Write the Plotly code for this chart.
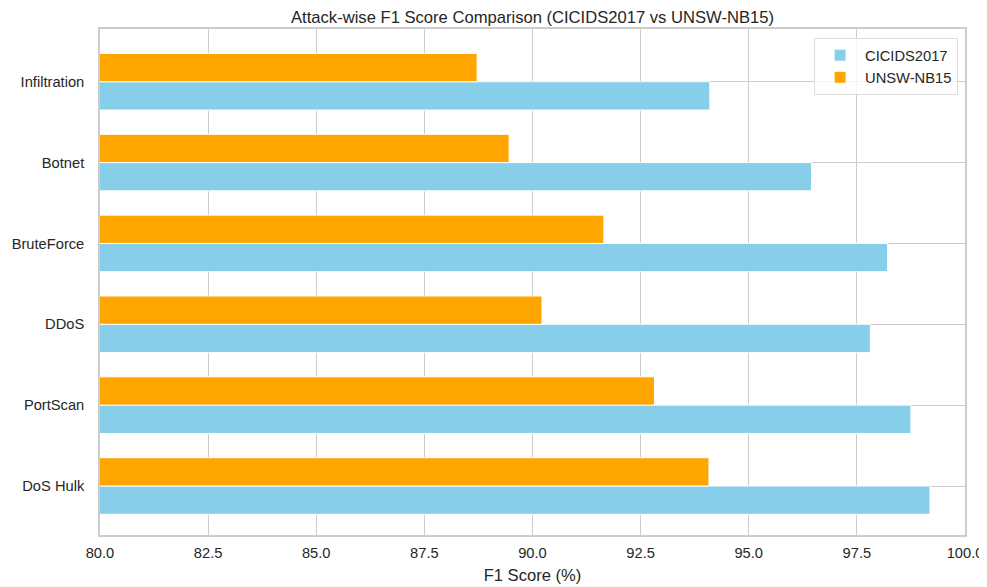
import plotly.graph_objects as go

categories = ["DoS Hulk", "PortScan", "DDoS", "BruteForce", "Botnet", "Infiltration"]
cicids2017 = [99.19, 98.75, 97.81, 98.21, 96.45, 94.10]
unsw_nb15 = [94.08, 92.82, 90.22, 91.65, 89.46, 88.72]
x_ticks = [80.0, 82.5, 85.0, 87.5, 90.0, 92.5, 95.0, 97.5, 100.0]

fig = go.Figure()
fig.add_trace(go.Bar(y=categories, x=cicids2017, orientation="h", name="CICIDS2017",
                     marker=dict(color="#87CEEB", line=dict(color="white", width=1))))
fig.add_trace(go.Bar(y=categories, x=unsw_nb15, orientation="h", name="UNSW-NB15",
                     marker=dict(color="#FFA500", line=dict(color="white", width=1))))

font = "Liberation Sans, Arial, sans-serif"
fig.update_layout(
    width=979, height=579,
    margin=dict(l=92, r=22, t=21, b=52, autoexpand=False),
    paper_bgcolor="white", plot_bgcolor="white",
    barmode="group", bargap=0.3, bargroupgap=0,
    font=dict(family=font, size=14.7, color="#262626"),
    title=dict(text="Attack-wise F1 Score Comparison (CICIDS2017 vs UNSW-NB15)",
               x=0.5, xanchor="center", xref="paper", y=0.9845, yanchor="middle",
               font=dict(size=16.6, color="#262626")),
    legend=dict(x=0.992, y=0.982, xanchor="right", yanchor="top",
                bgcolor="rgba(255,255,255,0.8)", bordercolor="#dddddd", borderwidth=1,
                font=dict(size=14.7), traceorder="normal", itemwidth=40),
    xaxis=dict(range=[80, 100], tickvals=x_ticks, ticktext=[f"{v:.1f}" for v in x_ticks],
               showgrid=True, gridcolor="#cccccc", gridwidth=1.2,
               showline=True, linecolor="#cccccc", linewidth=1.5, mirror=True,
               ticks="", zeroline=False, automargin=False, ticklabelstandoff=4,
               title=dict(text="F1 Score (%)", font=dict(size=16.6), standoff=9)),
    yaxis=dict(range=[-0.606, 5.652], showgrid=True, gridcolor="#cccccc", gridwidth=1.2,
               showline=True, linecolor="#cccccc", linewidth=1.5, mirror=True,
               ticks="", ticklabelstandoff=11, zeroline=False, automargin=False),
)
fig.write_html("out.html")
